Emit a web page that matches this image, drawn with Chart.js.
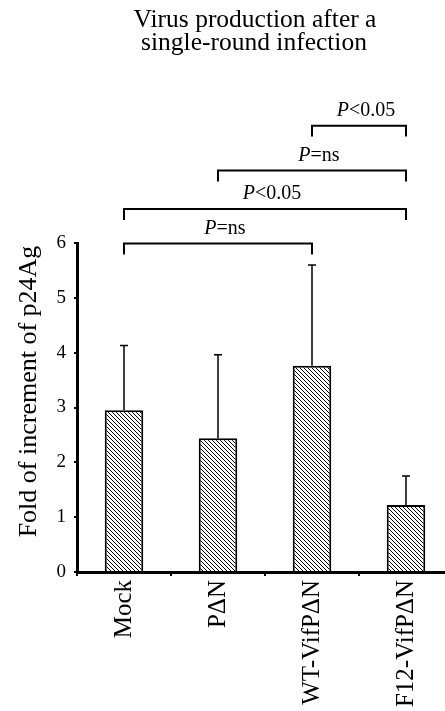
<!DOCTYPE html>
<html>
<head>
<meta charset="utf-8">
<script src="https://cdn.jsdelivr.net/npm/chart.js@4"></script>
<style>
    html, body { margin: 0; padding: 0; background: #fff; overflow: hidden; }
    #wrap { width: 453px; height: 711px; }
</style>
</head>
<body>
<div id="wrap"><canvas id="foldChart" width="453" height="711"></canvas></div>
<script>
// Data
const categories = ['Mock', 'P\u0394N', 'WT-VifP\u0394N', 'F12-VifP\u0394N'];
const foldValues = [2.95, 2.44, 3.76, 1.22];
const foldErrors = [1.18, 1.52, 1.84, 0.53];
const yTickMin = 0;
const yTickMax = 6;

// Significance brackets (category index from/to, level in y units)
const bracketFrom = [2, 1, 0, 0];
const bracketTo = [3, 3, 3, 2];
const bracketLevels = [8.14, 7.32, 6.62, 5.99];
const bracketLabels = ['<0.05', '=ns', '<0.05', '=ns'];

const titleLines = ['Virus production after a', 'single-round infection'];
const yTitle = 'Fold of increment of p24Ag';
const serif = "'Liberation Serif', 'Times New Roman', Times, serif";

document.addEventListener('DOMContentLoaded', function () {
    const ctx = document.getElementById('foldChart').getContext('2d');

    // hatch fill: thin "\" lines on white
    const tile = document.createElement('canvas');
    tile.width = 4; tile.height = 4;
    const t = tile.getContext('2d');
    t.fillStyle = '#fff';
    t.fillRect(0, 0, 4, 4);
    t.strokeStyle = '#000';
    t.lineWidth = 1;
    t.beginPath();
    t.moveTo(-1, -1); t.lineTo(5, 5);
    t.moveTo(3, -1); t.lineTo(5, 1);
    t.moveTo(-1, 3); t.lineTo(1, 5);
    t.stroke();
    const hatch = ctx.createPattern(tile, 'repeat');

    const overlay = {
        id: 'overlay',
        afterDatasetsDraw(chart) {
            const c = chart.ctx;
            const y = chart.scales.y;
            const meta = chart.getDatasetMeta(0);
            c.save();
            c.strokeStyle = '#000';
            c.lineWidth = 1.5;
            // error bars (upper only)
            meta.data.forEach((bar, i) => {
                const top = y.getPixelForValue(foldValues[i] + foldErrors[i]);
                c.beginPath();
                c.moveTo(bar.x, bar.y);
                c.lineTo(bar.x, top);
                c.moveTo(bar.x - 4, top);
                c.lineTo(bar.x + 4, top);
                c.stroke();
            });
            c.restore();
        },
        afterDraw(chart) {
            const c = chart.ctx;
            const y = chart.scales.y;
            const x = chart.scales.x;
            const area = chart.chartArea;
            c.save();
            c.fillStyle = '#000';
            c.strokeStyle = '#000';

            // brackets
            c.lineWidth = 2;
            bracketLevels.forEach((lvl, i) => {
                const x1 = x.getPixelForValue(bracketFrom[i]);
                const x2 = x.getPixelForValue(bracketTo[i]);
                const yl = y.getPixelForValue(lvl);
                const yb = y.getPixelForValue(lvl - 0.2);
                c.beginPath();
                c.moveTo(x1, yb);
                c.lineTo(x1, yl);
                c.lineTo(x2, yl);
                c.lineTo(x2, yb);
                c.stroke();

                c.font = 'italic 20px ' + serif;
                const wP = c.measureText('P').width;
                c.font = '20px ' + serif;
                const wR = c.measureText(bracketLabels[i]).width;
                const cx = (x1 + x2) / 2 + 7;
                const left = cx - (wP + wR) / 2;
                c.textBaseline = 'alphabetic';
                c.textAlign = 'left';
                c.font = 'italic 20px ' + serif;
                c.fillText('P', left, yl - 10);
                c.font = '20px ' + serif;
                c.fillText(bracketLabels[i], left + wP, yl - 10);
            });

            // title
            c.font = '25.5px ' + serif;
            c.textAlign = 'center';
            c.fillText(titleLines[0], 255, 27);
            c.fillText(titleLines[1], 254, 50);

            // y axis title
            c.translate(36, (area.top + area.bottom) / 2 - 16);
            c.rotate(-Math.PI / 2);
            c.font = '26px ' + serif;
            c.textAlign = 'center';
            c.textBaseline = 'alphabetic';
            c.fillText(yTitle, 0, 0);
            c.restore();
        }
    };

    new Chart(ctx, {
        type: 'bar',
        data: {
            labels: categories,
            datasets: [{
                data: foldValues,
                backgroundColor: hatch,
                borderColor: '#000',
                borderWidth: 2,
                borderSkipped: 'start',
                categoryPercentage: 1,
                barPercentage: 0.41
            }]
        },
        options: {
            responsive: false,
            animation: false,
            events: [],
            layout: { padding: { top: 243, left: 0, right: 0, bottom: 0 } },
            plugins: {
                legend: { display: false },
                tooltip: { enabled: false },
                title: { display: false }
            },
            scales: {
                x: {
                    afterFit: s => { s.height = 139; },
                    border: { display: true, color: '#000', width: 3 },
                    grid: {
                        drawOnChartArea: false,
                        color: '#000',
                        lineWidth: 2,
                        tickLength: 4,
                        offset: true
                    },
                    ticks: {
                        color: '#000',
                        font: { family: serif, size: 25 },
                        minRotation: 90,
                        maxRotation: 90,
                        autoSkip: false,
                        padding: 4
                    }
                },
                y: {
                    min: yTickMin,
                    max: yTickMax,
                    afterFit: s => { s.width = 77; },
                    border: { display: true, color: '#000', width: 3 },
                    grid: {
                        drawOnChartArea: false,
                        color: '#000',
                        lineWidth: 2,
                        tickLength: 3
                    },
                    ticks: {
                        stepSize: 1,
                        color: '#000',
                        font: { family: serif, size: 19 },
                        padding: 8
                    }
                }
            }
        },
        plugins: [overlay]
    });
});
</script>
</body>
</html>
